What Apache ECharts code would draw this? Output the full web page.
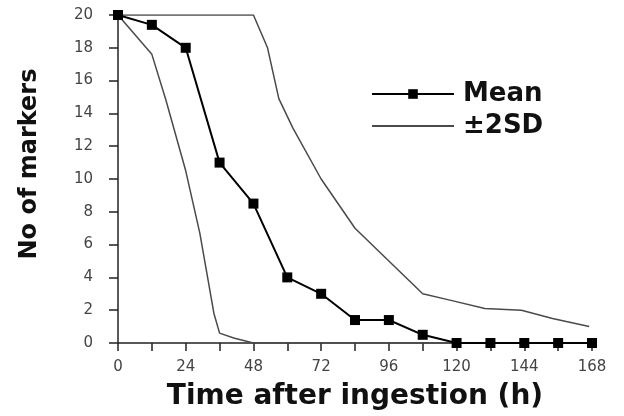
<!DOCTYPE html>
<html>
<head>
<meta charset="utf-8">
<script src="https://cdn.jsdelivr.net/npm/echarts@6/dist/echarts.min.js"></script>
<style>
  html, body { margin: 0; padding: 0; background: #fff; }
  #chart { width: 624px; height: 416px; }
</style>
</head>
<body>
<div id="chart"></div>
<script>
// time (h) and number of markers
var meanHours = [0, 12, 24, 36, 48, 60, 72, 84, 96, 108, 120, 132, 144, 156, 168];
var meanValues = [20, 19.4, 18, 11, 8.5, 4, 3, 1.4, 1.4, 0.5, 0, 0, 0, 0, 0];

var upperHours = [0, 48, 53, 57, 62, 72, 84, 96, 108, 118, 130, 143, 154, 167];
var upperValues = [20, 20, 18, 14.9, 13.1, 10, 7, 5, 3, 2.6, 2.1, 2, 1.5, 1];

var lowerHours = [0, 12, 17, 24, 29, 34, 36, 41, 48, 168];
var lowerValues = [20, 17.6, 14.8, 10.5, 6.7, 1.8, 0.6, 0.3, 0, 0];

var yTicks = [0, 2, 4, 6, 8, 10, 12, 14, 16, 18, 20];
var xTicks = [0, 24, 48, 72, 96, 120, 144, 168];

function pairs(xs, ys) {
    var out = [];
    for (var i = 0; i < xs.length; i++) {
        out.push([xs[i], ys[i]]);
    }
    return out;
}

var myChart = echarts.init(document.getElementById('chart'));
var font = 'DejaVu Sans, Verdana, sans-serif';

var option = {
    animation: false,
    backgroundColor: '#fff',
    grid: {
        left: 118,
        right: 32,
        top: 15,
        bottom: 73
    },
    legend: {
        orient: 'vertical',
        left: 366,
        top: 76,
        itemWidth: 82,
        itemHeight: 12,
        itemGap: 6,
        data: [
            { name: 'Mean' },
            { name: '±2SD', itemStyle: { opacity: 0 } }
        ],
        textStyle: {
            fontFamily: font,
            fontSize: 26,
            fontWeight: 'bold',
            color: '#111',
            padding: [0, 0, 0, 4]
        }
    },
    xAxis: {
        type: 'value',
        min: 0,
        max: 168,
        interval: 12,
        name: 'Time after ingestion (h)',
        nameLocation: 'middle',
        nameGap: 40,
        nameTextStyle: {
            fontFamily: font,
            fontSize: 28,
            fontWeight: 'bold',
            color: '#111'
        },
        splitLine: { show: false },
        axisLine: { lineStyle: { color: '#222', width: 1.5 } },
        axisTick: { length: 8, lineStyle: { color: '#222', width: 1.5 } },
        axisLabel: {
            fontFamily: font,
            fontSize: 15,
            color: '#444',
            margin: 17,
            formatter: function (v) {
                return xTicks.indexOf(v) >= 0 ? String(v) : '';
            }
        }
    },
    yAxis: {
        type: 'value',
        min: 0,
        max: 20,
        interval: 2,
        name: 'No of markers',
        nameLocation: 'middle',
        nameGap: 76,
        nameTextStyle: {
            fontFamily: font,
            fontSize: 24,
            fontWeight: 'bold',
            color: '#111',
            padding: [0, 0, 0, 30]
        },
        splitLine: { show: false },
        axisLine: { show: true, lineStyle: { color: '#222', width: 1.5 } },
        axisTick: { show: true, length: 9, lineStyle: { color: '#222', width: 1.5 } },
        axisLabel: {
            fontFamily: font,
            fontSize: 15,
            color: '#444',
            margin: 25,
            formatter: function (v) {
                return yTicks.indexOf(v) >= 0 ? String(v) : '';
            }
        }
    },
    series: [
        {
            name: '±2SD',
            type: 'line',
            symbol: 'none',
            lineStyle: { color: '#4a4a4a', width: 1.5 },
            itemStyle: { color: '#4a4a4a' },
            data: pairs(upperHours, upperValues)
        },
        {
            name: '±2SD',
            type: 'line',
            symbol: 'none',
            lineStyle: { color: '#4a4a4a', width: 1.5 },
            itemStyle: { color: '#4a4a4a' },
            data: pairs(lowerHours, lowerValues)
        },
        {
            name: 'Mean',
            type: 'line',
            symbol: 'rect',
            symbolSize: 10,
            lineStyle: { color: '#000', width: 2 },
            itemStyle: { color: '#000' },
            data: pairs(meanHours, meanValues)
        }
    ]
};
myChart.setOption(option);
window.onresize = myChart.resize;
</script>
</body>
</html>
